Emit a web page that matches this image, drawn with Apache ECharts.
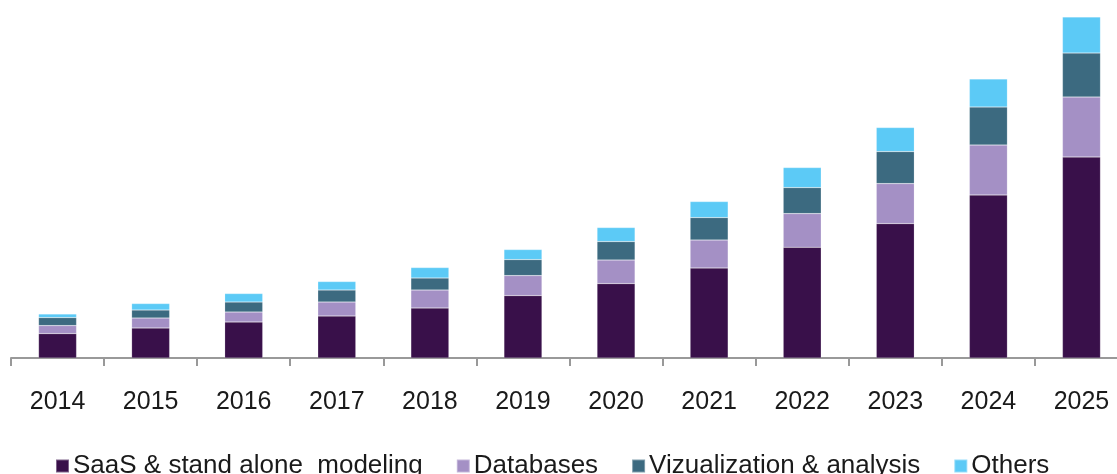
<!DOCTYPE html>
<html>
<head>
<meta charset="utf-8">
<script src="https://cdn.jsdelivr.net/npm/echarts@6/dist/echarts.min.js"></script>
<style>
  html, body { margin: 0; padding: 0; background: #fff; }
  #show { width: 1117px; height: 474px; }
</style>
</head>
<body>
<div id="show"></div>
<script>
var myChart = echarts.init(document.getElementById("show"));

// values (relative units, no y axis shown)
var years = ['2014', '2015', '2016', '2017', '2018', '2019', '2020', '2021', '2022', '2023', '2024', '2025'];
var saas = [24.4, 30, 36, 42, 50, 62.4, 74.4, 90, 110.7, 134.4, 163, 201];
var databases = [8, 10, 10, 14, 18, 20, 23.6, 28, 33.7, 40, 50, 60];
var viz = [8, 8, 10, 12, 12, 16, 18.4, 22.4, 26, 32, 38, 44];
var others = [3.6, 6.4, 8.4, 8.4, 10.4, 10, 14, 16, 20, 24, 28, 36];

var names = ['SaaS & stand alone  modeling', 'Databases', 'Vizualization & analysis', 'Others'];
var colors = ['#39104a', '#a490c5', '#3c6a80', '#5ccaf6'];

function bar(name, data, color) {
    return {
        name: name,
        type: 'bar',
        stack: 'total',
        data: data,
        barWidth: 38,
        itemStyle: { color: color, borderColor: 'rgba(255,255,255,0.35)', borderWidth: 0.5 }
    };
}

myChart.setOption({
    animation: false,
    textStyle: { fontFamily: 'Liberation Sans' },
    color: colors,
    legend: {
        left: 50,
        top: 448,
        icon: 'rect',
        itemWidth: 13,
        itemHeight: 13,
        itemGap: 33,
        textStyle: { fontSize: 26, color: '#1a1a1a', padding: [0, 0, 0, -1] },
        data: names
    },
    grid: {
        left: 11,
        width: 1117,
        top: 0,
        bottom: 116,
        containLabel: false,
        outerBoundsMode: 'none'
    },
    xAxis: {
        type: 'category',
        data: years,
        axisLine: { lineStyle: { color: '#999', width: 2 } },
        axisTick: { show: true, length: 8, lineStyle: { color: '#999', width: 2 } },
        axisLabel: { fontSize: 25, color: '#1a1a1a', margin: 32 }
    },
    yAxis: {
        type: 'value',
        min: 0,
        max: 358,
        show: false,
        splitLine: { show: false }
    },
    series: [
        bar(names[0], saas, colors[0]),
        bar(names[1], databases, colors[1]),
        bar(names[2], viz, colors[2]),
        bar(names[3], others, colors[3])
    ]
});
</script>
</body>
</html>
